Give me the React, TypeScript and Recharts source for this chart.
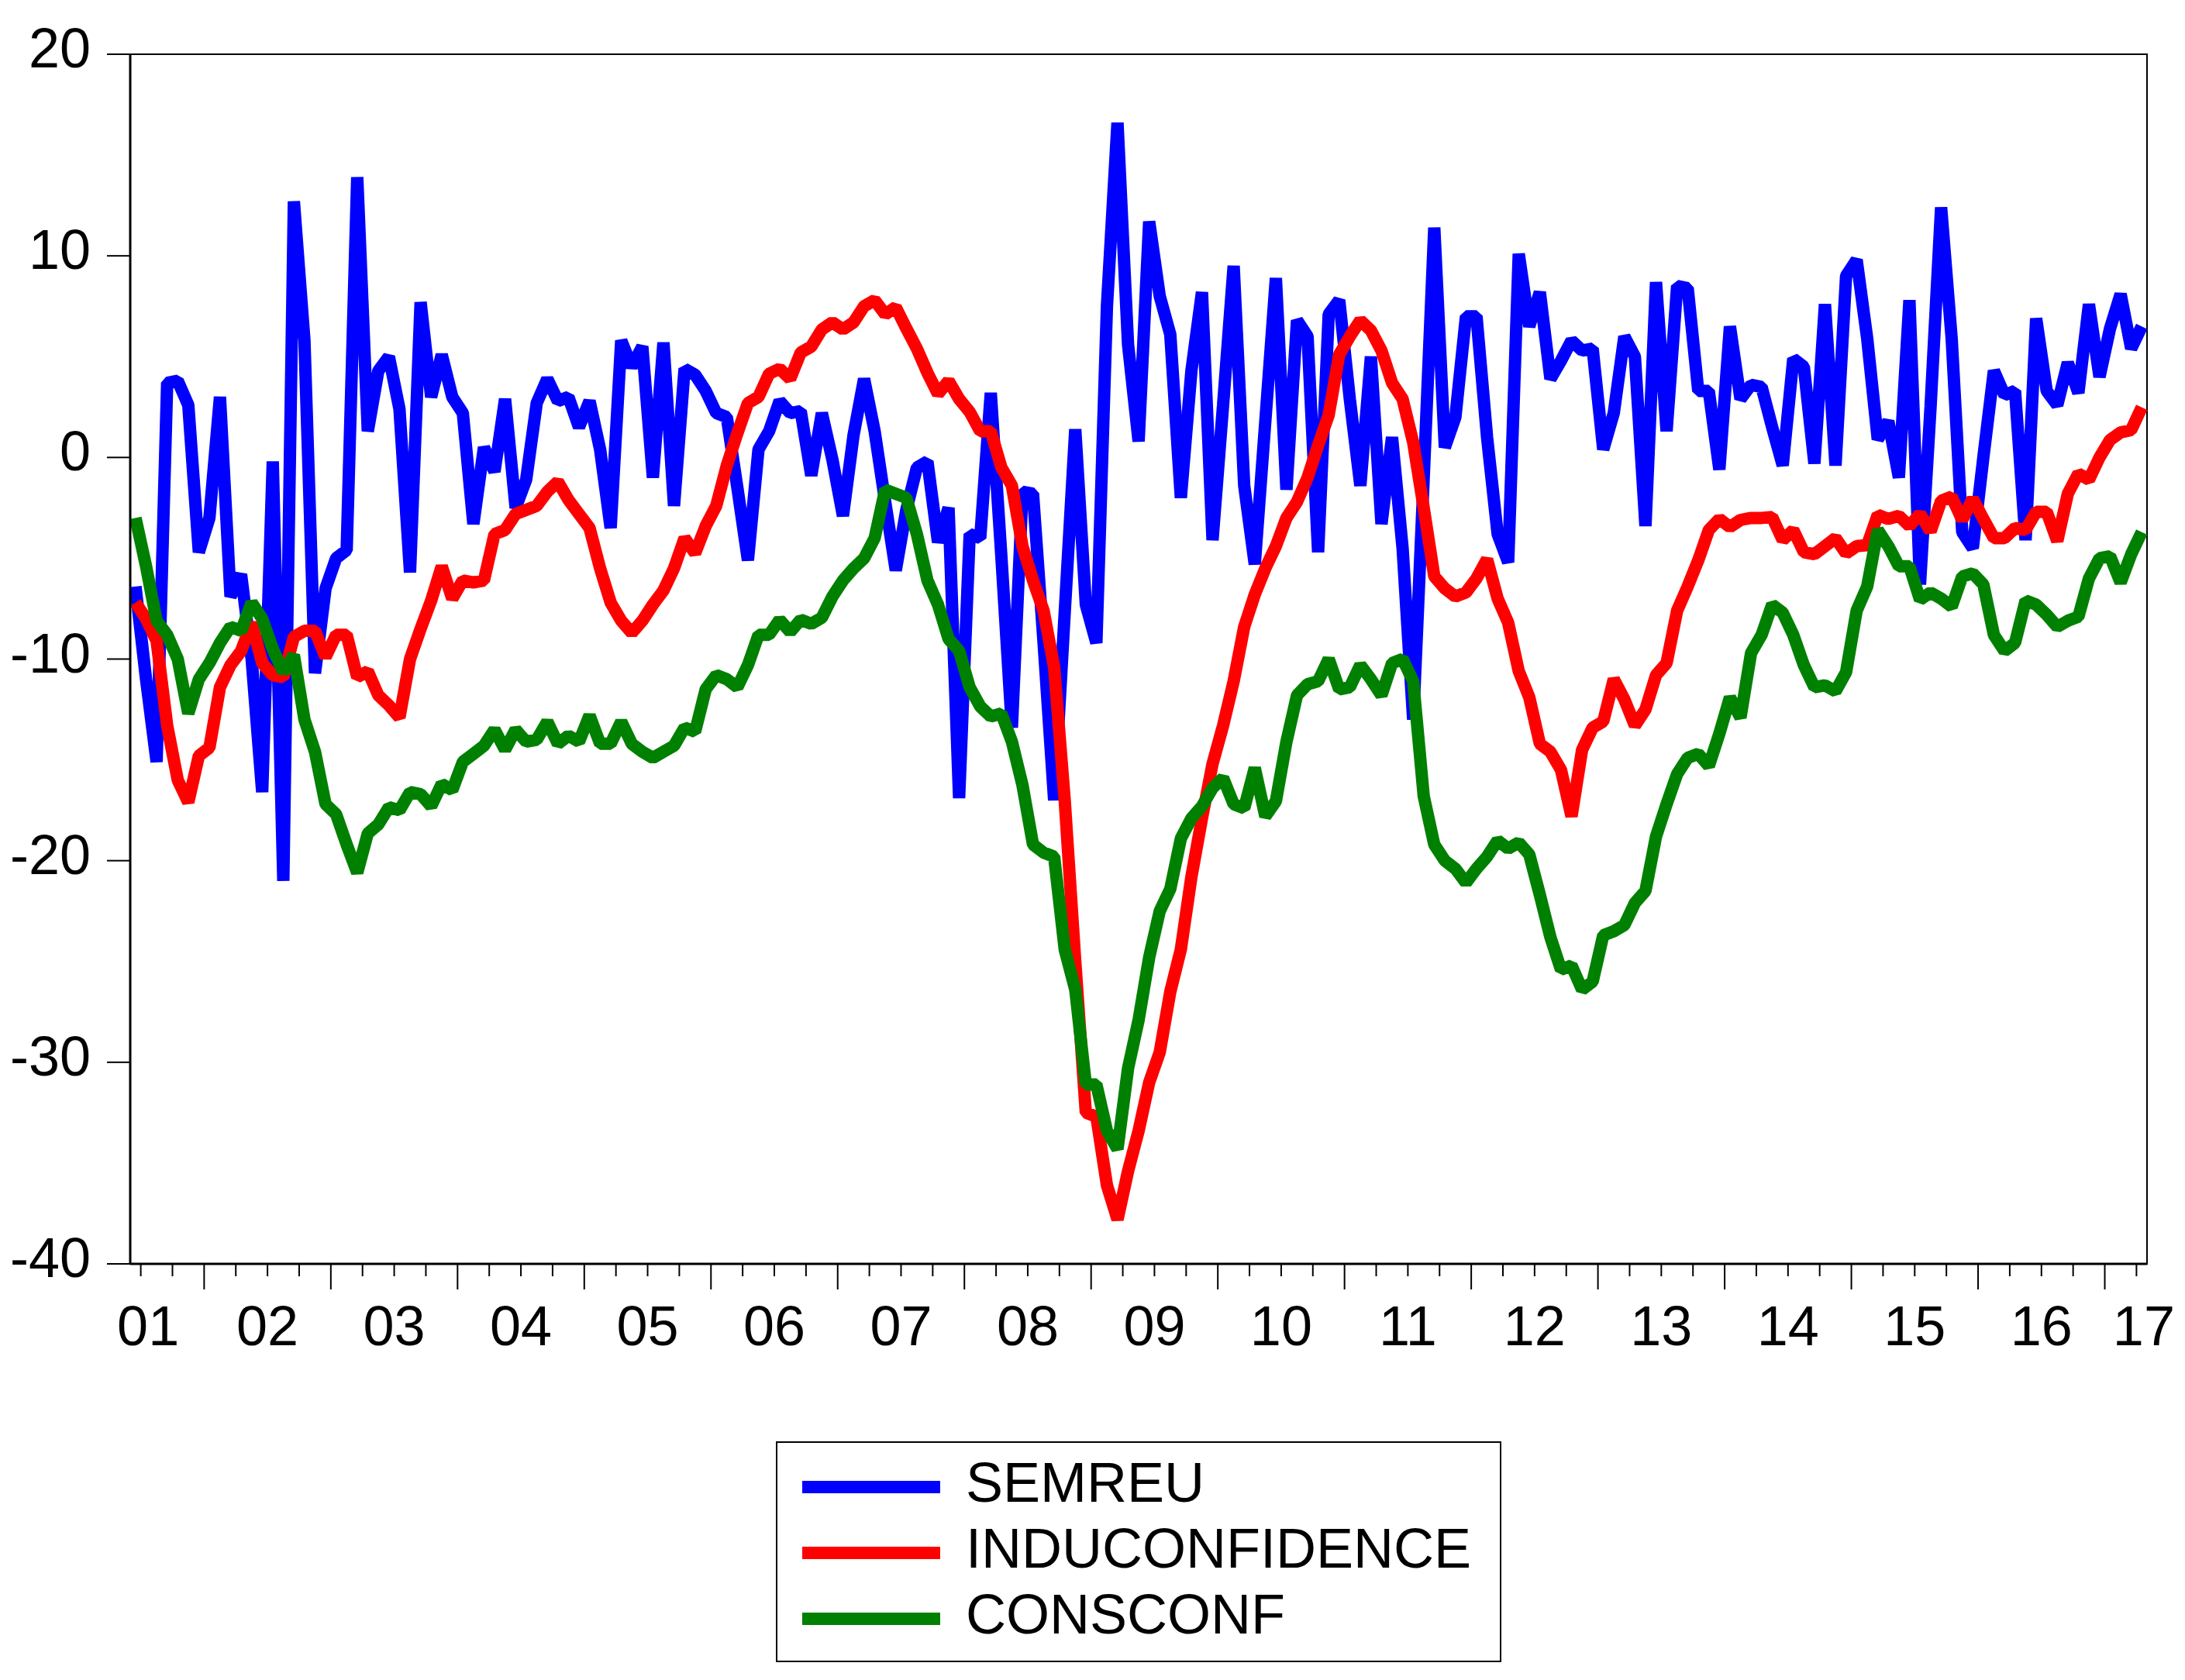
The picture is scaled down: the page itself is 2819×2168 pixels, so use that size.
import { Legend, Line, LineChart, ReferenceArea, XAxis, YAxis } from "recharts";

// monthly observations, 2001M06 .. 2017M04 (191 months)
const semreu = [
  -6.4, -11, -15.1, 3.7, 3.8, 2.6, -4.7, -3.0, 3.0, -6.9,
  -5.8, -10, -16.6, -0.2, -21.0, 12.7, 5.8, -10.7, -6.5, -5.0,
  -4.6, 13.9, 1.3, 4.3, 5.0, 2.4, -5.7, 7.7, 3.0, 5.1,
  3.0, 2.2, -3.3, 0.5, -0.7, 2.9, -2.5, -1.1, 2.7, 3.9,
  2.8, 3.0, 1.5, 2.8, 0.4, -3.5, 5.8, 4.5, 5.5, -1.0,
  5.7, -2.4, 4.4, 4.1, 3.3, 2.2, 2.0, -1.5, -5.1, 0.4,
  1.3, 2.8, 2.2, 2.3, -0.9, 2.2, -0.1, -2.9, 1.1, 3.9,
  1.3, -2.2, -5.6, -2.6, -0.5, -0.2, -4.2, -2.5, -16.9, -3.8,
  -4.0, 3.2, -4.9, -13.4, -1.7, -1.8, -9.2, -17.0, -7.7, 1.4,
  -7.3, -9.2, 7.5, 16.6, 5.6, 0.8, 11.7, 8.0, 6.1, -2.0,
  4.3, 8.2, -4.1, 2.6, 9.5, -1.4, -5.3, 1.8, 8.9, -1.6,
  6.8, 6.0, -4.7, 7.1, 7.8, 2.9, -1.4, 5.0, -3.3, 1.0,
  -4.5, -13.0, -1.0, 11.4, 0.5, 2.0, 7.0, 7.0, 1.0, -3.8,
  -5.2, 10.1, 6.5, 8.2, 3.9, 4.8, 5.8, 5.3, 5.4, 0.4,
  2.2, 6.0, 5.0, -3.4, 8.7, 1.3, 8.5, 8.4, 3.3, 3.3,
  -0.6, 6.5, 2.9, 3.6, 3.5, 1.5, -0.4, 4.9, 4.5, -0.3,
  7.6, -0.4, 9.0, 9.8, 5.9, 0.9, 1.8, -1.0, 7.8, -6.3,
  2.5, 12.4, 5.9, -3.7, -4.5, 0.0, 4.3, 3.1, 3.3, -4.1,
  6.9, 3.3, 2.6, 4.7, 3.2, 7.6, 4.0, 6.4, 8.1, 5.4,
  6.5,
];

const induconfidence = [
  -7.2, -8.0, -9.1, -13.3, -16.0, -17.1, -14.8, -14.4, -11.4, -10.3,
  -9.6, -8.2, -10.2, -10.8, -10.9, -8.9, -8.6, -8.6, -9.9, -8.8,
  -8.8, -10.9, -10.6, -11.8, -12.3, -12.9, -10.0, -8.5, -7.1, -5.4,
  -7.0, -6.1, -6.2, -6.1, -3.8, -3.6, -2.8, -2.6, -2.4, -1.7,
  -1.2, -2.1, -2.8, -3.5, -5.5, -7.2, -8.1, -8.7, -8.1, -7.3,
  -6.6, -5.5, -4.0, -4.75, -3.4, -2.4, -0.4, 1.2, 2.7, 3.0,
  4.15, 4.4, 3.9, 5.2, 5.5, 6.35, 6.7, 6.35, 6.7, 7.5,
  7.8, 7.1, 7.45, 6.4, 5.4, 4.2, 3.15, 3.8, 2.9, 2.26,
  1.3, 1.3, -0.5, -1.4, -4.4, -6.1, -7.6, -10.4, -17.0, -25.0,
  -32.5, -32.7, -36.1, -37.8, -35.4, -33.4, -31.0, -29.5, -26.5, -24.4,
  -20.8, -17.9, -15.2, -13.3, -11.1, -8.4, -6.8, -5.5, -4.4, -3.0,
  -2.2, -1.0, 0.6, 2.1, 5.1, 6.0, 6.8, 6.3, 5.3, 3.7,
  2.9, 0.75, -2.5, -5.9, -6.5, -6.9, -6.7, -6.0, -5.05, -7.0,
  -8.2, -10.6, -11.9, -14.2, -14.6, -15.5, -17.8, -14.5, -13.4, -13.1,
  -11.0, -12.0, -13.3, -12.5, -10.8, -10.2, -7.6, -6.4, -5.1, -3.6,
  -3.05, -3.45, -3.1, -3.0, -3.0, -2.96, -4.1, -3.6, -4.7, -4.8,
  -4.4, -4.0, -4.76, -4.4, -4.35, -2.85, -3.05, -2.9, -3.4, -2.8,
  -3.66, -2.15, -1.95, -3.1, -2.05, -3.05, -4.0, -4.0, -3.5, -3.6,
  -2.7, -2.7, -4.15, -1.8, -0.8, -1.1, 0.0, 0.87, 1.24, 1.36,
  2.49,
];

const consconf = [
  -3.0, -5.4, -8.1, -8.8, -10.0, -12.7, -11.0, -10.2, -9.2, -8.4,
  -8.6, -7.2, -8.0, -9.5, -10.65, -9.8, -13.0, -14.6, -17.2, -17.7,
  -19.2, -20.6, -18.65, -18.2, -17.35, -17.5, -16.6, -16.7, -17.3, -16.2,
  -16.5, -15.1, -14.7, -14.3, -13.5, -14.5, -13.5, -14.1, -14.0, -13.1,
  -14.2, -13.8, -14.1, -12.8, -14.2, -14.2, -13.1, -14.2, -14.6, -14.9,
  -14.6, -14.3, -13.4, -13.6, -11.5, -10.8, -11.0, -11.4, -10.3, -8.8,
  -8.8, -8.05, -8.65, -8.05, -8.25, -7.95, -6.9, -6.1, -5.5, -5.0,
  -4.0, -1.6, -1.8, -2.0, -3.8, -6.1, -7.3, -9.0, -9.6, -11.4,
  -12.35, -12.85, -12.7, -14.1, -16.25, -19.2, -19.6, -19.8, -24.4, -26.4,
  -31.1, -31.1, -33.4, -34.3, -30.3, -27.9, -24.8, -22.5, -21.4, -18.9,
  -17.9, -17.3, -16.4, -15.9, -17.2, -17.4, -15.4, -17.8, -17.05, -14.1,
  -11.8, -11.25, -11.1, -10.0, -11.5, -11.4, -10.3, -11.0, -11.8, -10.2,
  -10.0, -11.1, -16.8, -19.2, -20.0, -20.4, -21.1, -20.4, -19.8, -19.0,
  -19.4, -19.1, -19.7, -21.7, -23.8, -25.4, -25.2, -26.4, -26.0, -23.7,
  -23.5, -23.2, -22.1, -21.5, -18.8, -17.2, -15.7, -14.9, -14.7, -15.3,
  -13.7, -11.9, -12.9, -9.7, -8.8, -7.3, -7.7, -8.8, -10.3, -11.4,
  -11.3, -11.6, -10.65, -7.6, -6.4, -3.6, -4.4, -5.4, -5.4, -7.05,
  -6.7, -7.0, -7.4, -5.9, -5.75, -6.3, -8.8, -9.6, -9.2, -7.1,
  -7.3, -7.8, -8.4, -8.1, -7.9, -6.0, -5.0, -4.9, -6.2, -4.8,
  -3.7,
];

const seriesNames = ["SEMREU", "INDUCONFIDENCE", "CONSCONF"];
const yearLabels = ["01", "02", "03", "04", "05", "06", "07", "08", "09", "10", "11", "12", "13", "14", "15", "16", "17"];
const yTicks = [-40, -30, -20, -10, 0, 10, 20];

const FONT = "'Liberation Sans', Arial, sans-serif";
const last = semreu.length - 1;

const data = semreu.map((v, i) => ({ t: i, semreu: v, induconfidence: induconfidence[i], consconf: consconf[i] }));

// quarter boundaries; index 6.5 is the start of 2002
const quarterTicks = Array.from({ length: 64 }, (_, k) => 0.5 + 3 * k);
const yearTicks = yearLabels.map((_, k) => Math.min(Math.max(0.5 + 12 * k, 1.2), 190.2));

const QuarterTick = ({ x, y, payload }: any) => {
  const major = (payload.value - 6.5) % 12 === 0;
  return <line x1={x} x2={x} y1={y} y2={y + (major ? 33 : 16)} stroke="#000" strokeWidth={2} />;
};

const YearTick = ({ x, y, index }: any) => (
  <text x={x} y={y} dy={65} textAnchor="middle" fontSize={72} fontFamily={FONT} fill="#000">
    {yearLabels[index]}
  </text>
);

const ValueTick = ({ x, y, payload }: any) => (
  <text x={x} y={y} dy={17} textAnchor="end" fontSize={72} fontFamily={FONT} fill="#000">
    {payload.value}
  </text>
);

const LegendBox = ({ payload }: any) => {
  const items = [...(payload || [])].sort((a: any, b: any) => seriesNames.indexOf(a.value) - seriesNames.indexOf(b.value));
  return (
    <svg width={936} height={285} style={{ display: "block" }}>
      <rect x={1} y={1} width={934} height={283} fill="#fff" stroke="#000" strokeWidth={2} />
      {items.map((p: any, k: number) => (
        <g key={p.value}>
          <line x1={34} x2={212} y1={59 + 85 * k} y2={59 + 85 * k} stroke={p.color} strokeWidth={16} />
          <text x={245} y={78 + 85 * k} fontSize={72} fontFamily={FONT} fill="#000">
            {p.value}
          </text>
        </g>
      ))}
    </svg>
  );
};

export default function App() {
  return (
    <div style={{ position: "absolute", left: 0, top: 0, width: 2819, height: 2168, background: "#fff" }}>
      <LineChart width={2819} height={2168} data={data} margin={{ top: 70, right: 49, left: 0, bottom: 397 }}>
        <ReferenceArea x1={-0.5} x2={last + 0.5} y1={-40} y2={20} fill="none" stroke="#000" strokeWidth={2} />
        <XAxis
          dataKey="t"
          type="number"
          domain={[-0.5, last + 0.5]}
          ticks={quarterTicks}
          interval={0}
          height={40}
          tickSize={0}
          tickMargin={0}
          tickLine={false}
          axisLine={{ stroke: "#000", strokeWidth: 3 }}
          tick={<QuarterTick />}
        />
        <XAxis
          xAxisId="yr"
          dataKey="t"
          type="number"
          domain={[-0.5, last + 0.5]}
          ticks={yearTicks}
          interval={0}
          height={100}
          tickSize={0}
          tickMargin={0}
          tickLine={false}
          axisLine={false}
          tick={<YearTick />}
        />
        <YAxis
          domain={[-40, 20]}
          ticks={yTicks}
          interval={0}
          width={168}
          tickSize={30}
          tickMargin={21}
          tickLine={{ stroke: "#000", strokeWidth: 2 }}
          axisLine={{ stroke: "#000", strokeWidth: 3 }}
          tick={<ValueTick />}
        />
        <Line dataKey="semreu" name={seriesNames[0]} type="linear" stroke="#0000ff" strokeWidth={16} strokeLinejoin="bevel" dot={false} activeDot={false} isAnimationActive={false} />
        <Line dataKey="induconfidence" name={seriesNames[1]} type="linear" stroke="#ff0000" strokeWidth={16} strokeLinejoin="bevel" dot={false} activeDot={false} isAnimationActive={false} />
        <Line dataKey="consconf" name={seriesNames[2]} type="linear" stroke="#008000" strokeWidth={16} strokeLinejoin="bevel" dot={false} activeDot={false} isAnimationActive={false} />
        <Legend
          layout="vertical"
          align="center"
          verticalAlign="middle"
          itemSorter={null as any}
          wrapperStyle={{ left: 1001, top: 1860, width: 936, height: 285 }}
          content={<LegendBox />}
        />
      </LineChart>
    </div>
  );
}
